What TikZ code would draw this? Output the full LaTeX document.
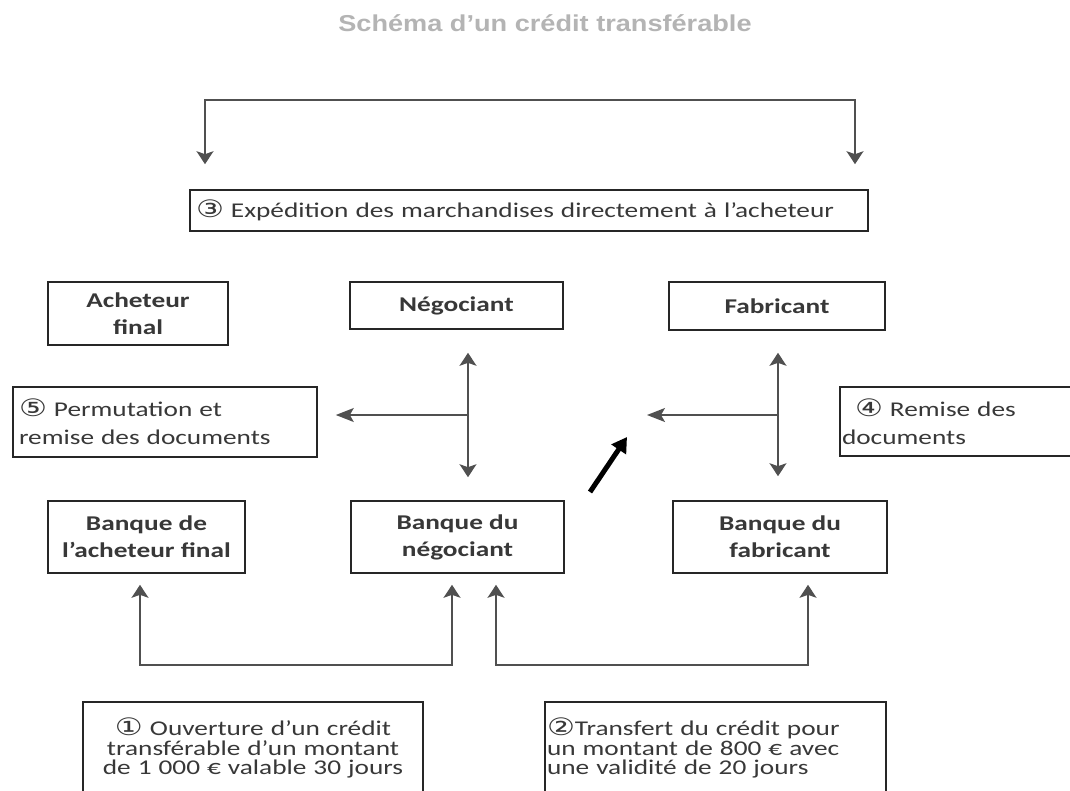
\documentclass[tikz,border=0pt]{standalone}
\usepackage{fontspec}
\usetikzlibrary{arrows.meta}
% Fonts: a widened Calibri-like face for the boxes, symbols from DejaVu
\newfontfamily\boxfont{Carlito}[FakeStretch=1.3]
\newfontfamily\symfont{DejaVu Sans}[FakeStretch=1.3]
\newfontfamily\titlefont{Liberation Sans}[FakeStretch=1.18]
\definecolor{ink}{HTML}{383838}
\definecolor{edge}{HTML}{262626}
\definecolor{wire}{HTML}{505050}
\definecolor{titlegray}{HTML}{B4B4B4}
\newcommand{\cnum}[1]{{\symfont\fontsize{24}{21}\selectfont #1}}

\begin{document}
\begin{tikzpicture}[x=1pt,y=-1pt,
  box/.style={draw=edge, line width=1.6pt, inner sep=0pt, text=ink, fill=white},
  party/.style={box, font=\boxfont\bfseries\fontsize{21}{27}\selectfont, align=center},
  note/.style={box, font=\boxfont\fontsize{21}{28}\selectfont},
  credit/.style={box, font=\boxfont\fontsize{21}{19.5}\selectfont},
  wire/.style={draw=wire, line width=1.4pt},
  vtips/.style={{Stealth[length=13pt,width=17pt,inset=3pt]}-{Stealth[length=13pt,width=17pt,inset=3pt]}},
  htip/.style={-{Stealth[length=18pt,width=14pt,inset=4pt]}},
  bold arrow/.style={draw=black, line width=5pt, -{Triangle[length=15pt,width=17pt]}}
]
\useasboundingbox (0,0) rectangle (1070,790);
\fill[white] (0,0) rectangle (1070,790);
\clip (0,0) rectangle (1070,790);

% Title
\node[font=\titlefont\bfseries\fontsize{23}{23}\selectfont, text=titlegray] (title) at (545,23) {Schéma d’un crédit transférable};

% Step 3 box
\node[box, font=\boxfont\fontsize{21}{21}\selectfont, minimum width=678pt, minimum height=41pt,
      text width=666pt, inner xsep=6pt, align=left] (ship) at (529,210.5)
      {\cnum{③} Expédition des marchandises directement à l’acheteur};

% Parties
\node[party, minimum width=180pt, minimum height=63pt] (buyer) at (138,313.5) {Acheteur\\final};
\node[party, minimum width=213pt, minimum height=47pt] (neg) at (456.5,305.5) {Négociant};
\node[party, minimum width=216pt, minimum height=48pt] (fab) at (777,306) {Fabricant};

% Banks
\node[party, minimum width=197pt, minimum height=72pt] (bach) at (146.5,537) {Banque de\\l’acheteur final};
\node[party, minimum width=213pt, minimum height=72pt] (bneg) at (457.5,537) {Banque du\\négociant};
\node[party, minimum width=214pt, minimum height=72pt] (bfab) at (780,537) {Banque du\\fabricant};

% Document steps
\node[note, minimum width=304pt, minimum height=70pt, text width=292pt, inner xsep=6pt, align=left]
      (perm) at (165,422) {\cnum{⑤} Permutation et\\remise des documents};
\node[note, minimum width=240pt, minimum height=69pt, text width=236pt, inner xsep=2pt, align=left]
      (remise) at (960,421.5) {\hspace*{13pt}\cnum{④} Remise des\\documents};

% Credit steps
\node[credit, minimum width=340pt, minimum height=92pt, text width=336pt, inner xsep=2pt, align=center]
      (open) at (253,748) {\cnum{①} Ouverture d’un crédit\\transférable d’un montant\\de 1 000 € valable 30 jours};
\node[credit, minimum width=341pt, minimum height=92pt, text width=337pt, inner xsep=2pt, align=left]
      (transfer) at (715.5,748) {\cnum{②}Transfert du crédit pour\\un montant de 800 € avec\\une validité de 20 jours};

% Shipment bracket above step 3
\coordinate (L) at (205,100);
\coordinate (R) at (855,100);
\draw[wire, vtips, shorten <=25pt, shorten >=25pt] (ship.north -| L) -- (L) -- (R) -- (ship.north -| R);

% Document exchanges
\coordinate (nm) at (468,415);
\coordinate (fm) at (778,415);
\coordinate (fl) at (647,415);
\draw[wire, vtips, shorten <=23pt, shorten >=23pt] (neg.south -| nm) -- (bneg.north -| nm);
\draw[wire, htip, shorten >=18pt] (nm) -- (perm.east |- nm);
\draw[wire, vtips, shorten <=22pt, shorten >=24pt] (fab.south -| fm) -- (bfab.north -| fm);
\draw[wire, htip] (fm) -- (fl);

% Heavy arrow
\coordinate (ha) at (590,492);
\coordinate (hb) at (627,437);
\draw[bold arrow] (ha) -- (hb);

% Credit flows between banks
\draw[wire, vtips, shorten <=11pt, shorten >=11pt]
  ([xshift=-6.5pt]bach.south) -- ++(0,91) -| ([xshift=-5.5pt]bneg.south);
\draw[wire, vtips, shorten <=11pt, shorten >=11pt]
  ([xshift=38.5pt]bneg.south) -- ++(0,91) -| ([xshift=28pt]bfab.south);
\end{tikzpicture}
\end{document}
